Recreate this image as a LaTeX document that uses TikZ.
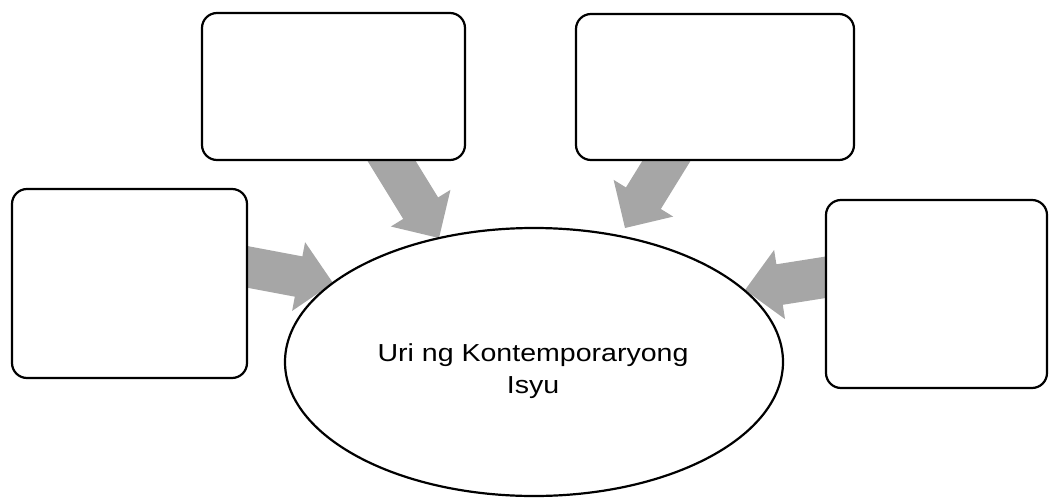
\documentclass[tikz,border=0pt]{standalone}
\usepackage{fontspec}
\newfontfamily\arialx[FakeStretch=1.16]{Liberation Sans}
\usetikzlibrary{shapes.geometric,calc}
\definecolor{arrowgray}{HTML}{A6A6A6}
\tikzset{
  box/.style={draw=black, line width=2.2pt, rounded corners=15pt, fill=white,
              inner sep=0pt, outer sep=0pt, anchor=north west},
  oval/.style={ellipse, draw=black, line width=2.2pt, fill=white, inner sep=0pt, outer sep=0pt},
  label/.style={font=\arialx\fontsize{24.6}{31.6}\selectfont, align=center, inner sep=0pt},
  arrowfill/.style={fill=arrowgray}
}
% block arrow from tail coordinate #1 to tip coordinate #2
\newcommand\blockarrow[2]{%
  \fill[arrowfill] let \p1=(#1), \p2=(#2),
    \n1={atan2(\y2-\y1,\x2-\x1)}, \n2={veclen(\x2-\x1,\y2-\y1)-35pt} in
    ($(\p1)+({\n1-90}:20.5pt)$)
    -- ($(\p1)+(\n1:\n2)+({\n1-90}:20.5pt)$)
    -- ($(\p1)+(\n1:\n2)+({\n1-90}:35pt)$)
    -- (\p2)
    -- ($(\p1)+(\n1:\n2)+({\n1+90}:35pt)$)
    -- ($(\p1)+(\n1:\n2)+({\n1+90}:20.5pt)$)
    -- ($(\p1)+({\n1+90}:20.5pt)$) -- cycle;}
\begin{document}
\begin{tikzpicture}[x=1pt,y=-1pt]
  \useasboundingbox (0,0) rectangle (1055,498);
  % arrow ends
  \coordinate (tL) at (232,264);  \coordinate (hL) at (333,283);
  \coordinate (tTL) at (383,147); \coordinate (hTL) at (439,238);
  \coordinate (tTR) at (675,147); \coordinate (hTR) at (625,228);
  \coordinate (tR) at (840,275);  \coordinate (hR) at (745,290);
  \blockarrow{tL}{hL}
  \blockarrow{tTL}{hTL}
  \blockarrow{tTR}{hTR}
  \blockarrow{tR}{hR}
  % boxes
  \node[box, minimum width=263pt, minimum height=147pt] (boxTL) at (202,13) {};
  \node[box, minimum width=278pt, minimum height=146pt] (boxTR) at (576,14) {};
  \node[box, minimum width=235pt, minimum height=189pt] (boxL) at (12,189) {};
  \node[box, minimum width=221pt, minimum height=188pt] (boxR) at (826,200) {};
  % central ellipse
  \node[oval, minimum width=498pt, minimum height=268pt] (ell) at (534,362) {};
  \node[label, anchor=base] (lbl) at (533,393.3) {Uri ng Kontemporaryong\\Isyu};
\end{tikzpicture}
\end{document}
